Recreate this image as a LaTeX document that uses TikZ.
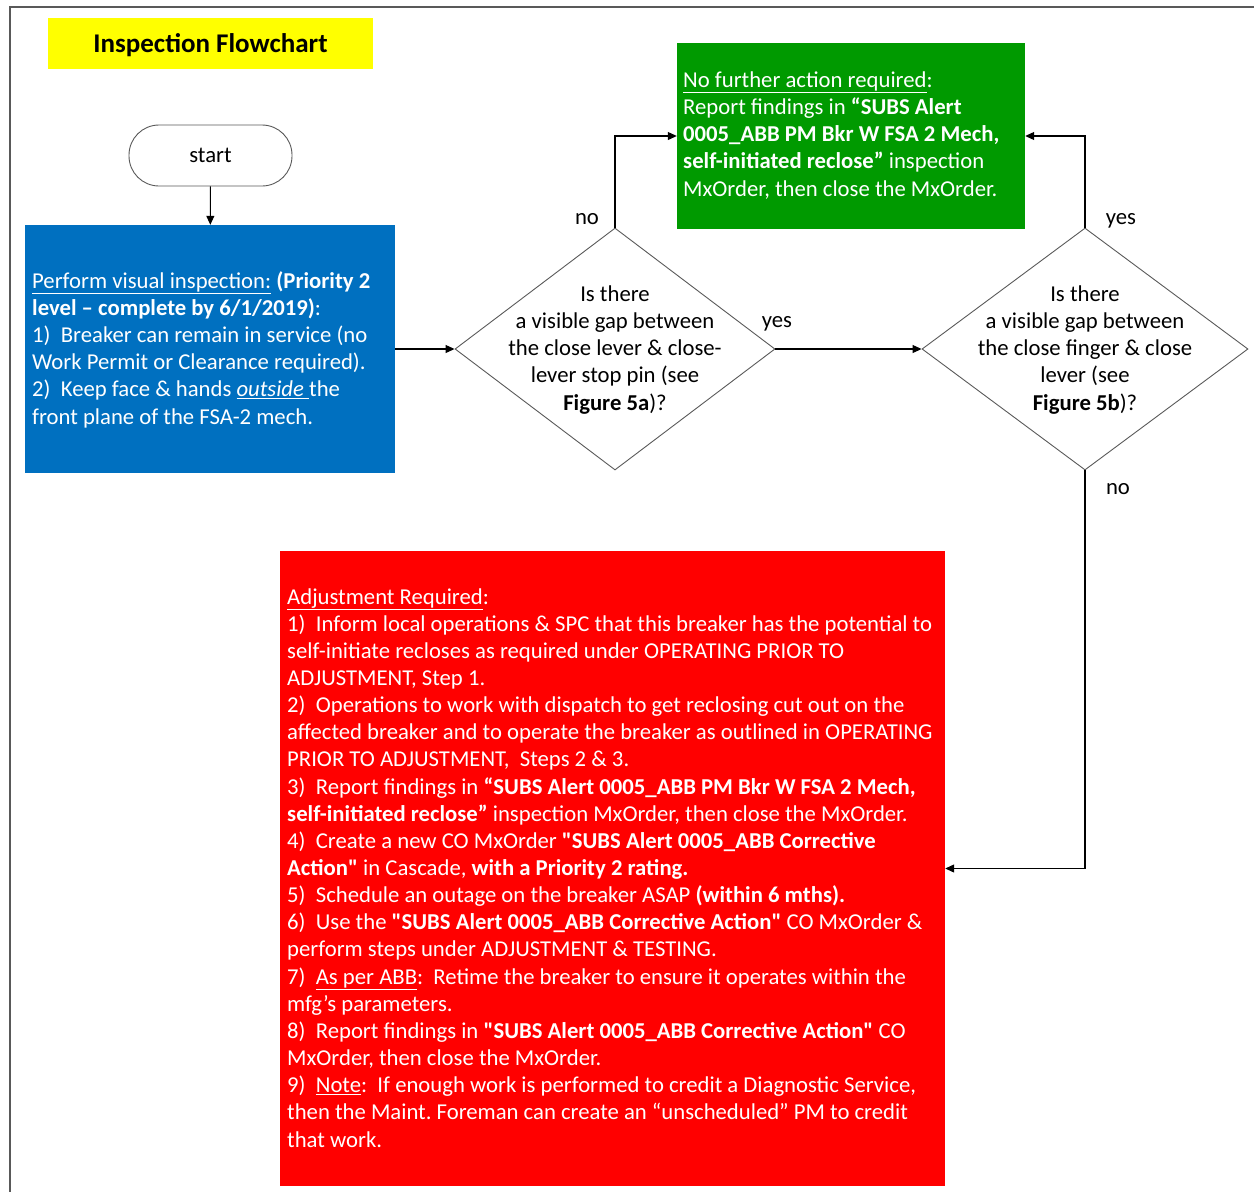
\documentclass[tikz,border=0pt]{standalone}
\usepackage{fontspec}
\setmainfont{Carlito}
\usetikzlibrary{arrows.meta,shapes.geometric}
\definecolor{boxblue}{HTML}{0070C0}
\definecolor{boxgreen}{HTML}{009A00}
\definecolor{boxred}{HTML}{FF0000}
\definecolor{titleyellow}{HTML}{FFFF00}
\definecolor{edgegray}{HTML}{595959}
\newcommand{\mydq}{\XeTeXglyph\XeTeXcharglyph"22\relax}
\frenchspacing
\begin{document}
\begin{tikzpicture}[x=1pt,y=-1pt,
  body/.style={font=\fontsize{22.7}{27.2}\selectfont},
  panel/.style={draw=none, inner sep=0pt},
  boxtext/.style={body, text=white, align=left, inner sep=0pt, anchor=base west},
  dtext/.style={body, align=center, inner sep=0pt, anchor=base},
  lbl/.style={body, inner sep=0pt, anchor=base},
  decision/.style={diamond, draw=edgegray, line width=0.9pt, inner sep=0pt},
  arr/.style={line width=1.1pt, -{Triangle[length=9pt,width=8pt]}}]
\useasboundingbox (0,0) rectangle (1254,1192);
\draw[line width=1.3pt, edgegray] (10,1192) -- (10,7) -- (1254,7);

% title
\node[panel, fill=titleyellow, minimum width=325pt, minimum height=51pt] (title) at (210.5,43.5) {};
\node[lbl, font=\fontsize{27}{30}\selectfont\bfseries] (titletext) at (210.5,52) {Inspection Flowchart};

% start
\node[draw=edgegray, line width=0.9pt, rounded corners=30pt, minimum width=163pt, minimum height=61pt, inner sep=0pt] (start) at (210.5,155.5) {};
\node[lbl] (starttext) at (210.5,162) {start};

% blue box (anchor = baseline of last line)
\node[panel, fill=boxblue, minimum width=370pt, minimum height=248pt] (blue) at (210,349) {};
\node[boxtext] (bluetext) at (32,424) {\underline{Perform visual inspection:} \textbf{(Priority 2}\\
\textbf{level – complete by 6/1/2019)}:\\
1)\ \ Breaker can remain in service (no\\
Work Permit or Clearance required).\\
2)\ \ Keep face \& hands \underline{\textit{outside }}the\\
front plane of the FSA-2 mech.};

% diamonds
\node[decision, minimum width=320pt, minimum height=242pt] (d1) at (615,349) {};
\node[dtext] (d1text) at (615,410) {Is there\\a visible gap between\\the close lever \& close-\\lever stop pin (see\\\textbf{Figure 5a})?};
\node[decision, minimum width=326pt, minimum height=242pt] (d2) at (1085,349) {};
\node[dtext] (d2text) at (1085,410) {Is there\\a visible gap between\\the close finger \& close\\lever (see\\\textbf{Figure 5b})?};

% green box
\node[panel, fill=boxgreen, minimum width=348pt, minimum height=186pt] (green) at (851,136) {};
\node[boxtext] (greentext) at (683,196) {\underline{No further action required}:\\
Report findings in \textbf{“SUBS Alert}\\
\textbf{0005\_ABB PM Bkr W FSA 2 Mech,}\\
\textbf{self-initiated reclose”} inspection\\
MxOrder, then close the MxOrder.};

% red box
\node[panel, fill=boxred, minimum width=665pt, minimum height=635pt] (red) at (612.5,868.5) {};
\node[boxtext, font=\fontsize{22.7}{27.15}\selectfont] (redtext) at (287,1147) {\underline{Adjustment Required}:\\
1)\ \ Inform local operations \& SPC that this breaker has the potential to\\
self-initiate recloses as required under OPERATING PRIOR TO\\
ADJUSTMENT, Step 1.\\
2)\ \ Operations to work with dispatch to get reclosing cut out on the\\
affected breaker and to operate the breaker as outlined in OPERATING\\
PRIOR TO ADJUSTMENT,\ \ Steps 2 \& 3.\\
3)\ \ Report findings in \textbf{“SUBS Alert 0005\_ABB PM Bkr W FSA 2 Mech,}\\
\textbf{self-initiated reclose”} inspection MxOrder, then close the MxOrder.\\
4)\ \ Create a new CO MxOrder \textbf{\mydq SUBS Alert 0005\_ABB Corrective}\\
\textbf{Action\mydq} in Cascade, \textbf{with a Priority 2 rating.}\\
5)\ \ Schedule an outage on the breaker ASAP \textbf{(within 6 mths).}\\
6)\ \ Use the \textbf{\mydq SUBS Alert 0005\_ABB Corrective Action\mydq} CO MxOrder \&\\
perform steps under ADJUSTMENT \& TESTING.\\
7)\ \ \underline{As per ABB}:\ \ Retime the breaker to ensure it operates within the\\
mfg’s parameters.\\
8)\ \ Report findings in \textbf{\mydq SUBS Alert 0005\_ABB Corrective Action\mydq} CO\\
MxOrder, then close the MxOrder.\\
9)\ \ \underline{Note}:\ \ If enough work is performed to credit a Diagnostic Service,\\
then the Maint. Foreman can create an “unscheduled” PM to credit\\
that work.};

% labels
\node[lbl] (lno1) at (587,224) {no};
\node[lbl] (lyes1) at (777,327) {yes};
\node[lbl] (lyes2) at (1121,224) {yes};
\node[lbl] (lno2) at (1118,494) {no};

% connectors
\draw[arr] (start) -- (blue);
\draw[arr] (blue) -- (d1);
\draw[arr] (d1) -- (d2);
\draw[arr] (d1.north) |- (green.west);
\draw[arr] (d2.north) |- (green.east);
\draw[arr] (d2.south) |- (red.east);
\end{tikzpicture}
\end{document}
